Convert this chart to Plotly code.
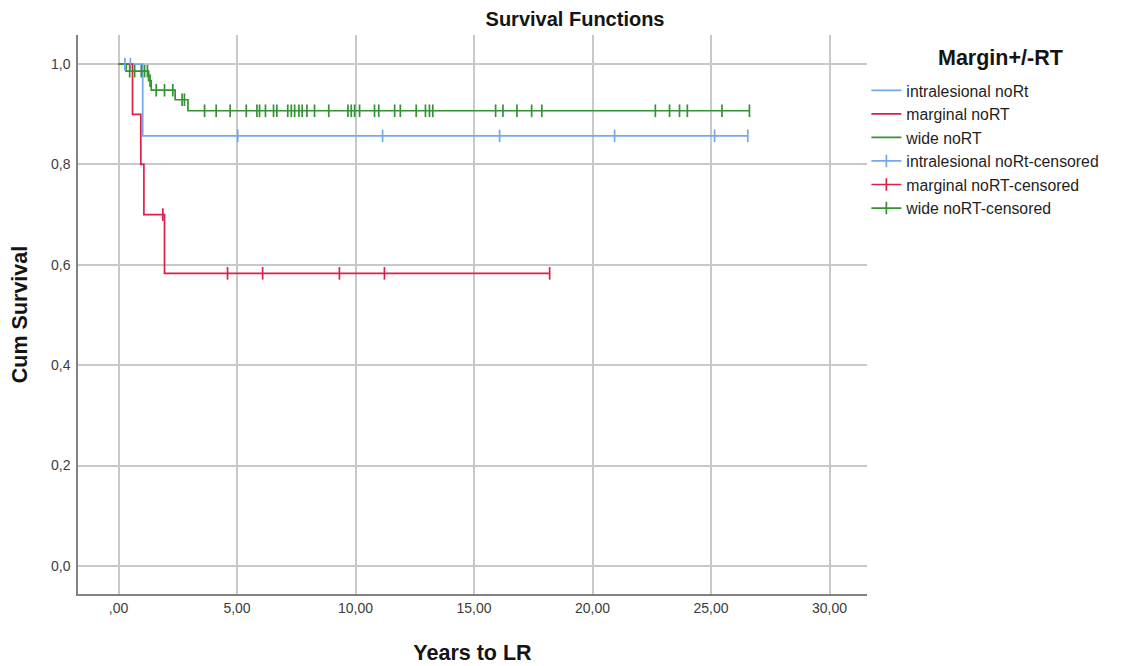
import plotly.graph_objects as go

# ---- data ----
groups = ["intralesional noRt", "marginal noRT", "wide noRT"]

intra_event_times = [1.02]
intra_event_surv = [0.857]
intra_censor_times = [0.27, 0.50, 5.03, 11.14, 16.08, 20.93, 25.15, 26.55]

marg_event_times = [0.59, 0.94, 1.07, 1.94]
marg_event_surv = [0.90, 0.80, 0.70, 0.583]
marg_censor_times = [1.87, 4.60, 6.08, 9.32, 11.22, 18.19]

wide_event_times = [0.32, 1.27, 1.38, 2.39, 2.93]
wide_event_surv = [0.986, 0.967, 0.948, 0.929, 0.907]
wide_censor_times = [0.47, 0.68, 0.96, 1.10, 1.22, 1.33, 1.59, 1.94, 2.29, 2.68, 2.78,
                     3.63, 4.12, 4.71, 5.39, 5.84, 5.95, 6.20, 6.54, 6.68, 7.14, 7.29,
                     7.43, 7.61, 7.75, 7.95, 8.27, 8.87, 9.68, 9.82, 9.96, 10.17, 10.80,
                     10.98, 11.65, 11.89, 12.56, 12.95, 13.12, 13.26, 15.91, 16.22, 16.81,
                     17.43, 17.86, 22.65, 23.25, 23.67, 24.00, 25.46, 26.62]

x_tickvals = [0, 5, 10, 15, 20, 25, 30]
x_ticktext = [",00", "5,00", "10,00", "15,00", "20,00", "25,00", "30,00"]
y_tickvals = [0.0, 0.2, 0.4, 0.6, 0.8, 1.0]
y_ticktext = ["0,0", "0,2", "0,4", "0,6", "0,8", "1,0"]

legend_title = "Margin+/-RT"
colors = ["rgb(115,168,234)", "rgb(222,30,75)", "rgb(52,145,52)"]


def surv_at(t, ev_t, ev_s):
    s = 1.0
    for et, es in zip(ev_t, ev_s):
        if t >= et:
            s = es
    return s


def step_xy(ev_t, ev_s, cens_t):
    end = max(max(cens_t), max(ev_t))
    xs = [0.0] + list(ev_t) + [end]
    ys = [1.0] + list(ev_s) + [ev_s[-1]]
    return xs, ys


fig = go.Figure()
data = [
    (intra_event_times, intra_event_surv, intra_censor_times),
    (marg_event_times, marg_event_surv, marg_censor_times),
    (wide_event_times, wide_event_surv, wide_censor_times),
]

for name, col, (et, es, ct) in zip(groups, colors, data):
    xs, ys = step_xy(et, es, ct)
    fig.add_trace(go.Scatter(x=xs, y=ys, mode="lines", line=dict(color=col, width=1.7, shape="hv"),
                             name=name, hoverinfo="skip"))

for name, col, (et, es, ct) in zip(groups, colors, data):
    cx, cy = [], []
    for t in ct:
        cx += [t, None]
        cy += [surv_at(t, et, es), None]
    fig.add_trace(go.Scatter(x=cx, y=cy, mode="lines+markers", connectgaps=False,
                             line=dict(color=col, width=1.7),
                             marker=dict(symbol="line-ns-open", size=9, color=col,
                                         line=dict(color=col, width=1.7)),
                             name=name + "-censored", hoverinfo="skip"))

grid_col = "rgb(200,200,200)"
fig.update_layout(
    width=1135, height=666,
    paper_bgcolor="white", plot_bgcolor="white",
    font=dict(family="Liberation Sans, Arial, sans-serif", color="rgb(40,40,40)"),
    margin=dict(l=70, r=276, t=27, b=80),
    title=dict(text="<b>Survival Functions</b>", x=0.4996, xanchor="center", y=0.9835, yanchor="middle",
               font=dict(size=20, color="rgb(20,20,20)")),
    showlegend=True,
    legend=dict(
        x=0.9992, xanchor="left", y=0.931, yanchor="top",
        font=dict(size=15.8, color="rgb(30,30,30)"),
        itemwidth=30, tracegroupgap=0, bgcolor="rgba(0,0,0,0)",
    ),
    annotations=[dict(text="<b>" + legend_title + "</b>", xref="paper", yref="paper",
                      x=1.1686, y=0.9589, xanchor="center", yanchor="middle", showarrow=False,
                      font=dict(size=21.5, color="rgb(20,20,20)"))],
    xaxis=dict(
        range=[-1.71, 31.58], tickvals=x_tickvals, ticktext=x_ticktext,
        showgrid=True, gridcolor=grid_col, gridwidth=1.6, zeroline=False,
        showline=True, linecolor="rgb(130,130,130)", linewidth=1.5,
        ticks="", tickfont=dict(size=14, color="rgb(60,60,60)"), automargin=False,
        title=dict(text="<b>Years to LR</b>", font=dict(size=21.5, color="rgb(20,20,20)"), standoff=30),
    ),
    yaxis=dict(
        range=[-0.056, 1.058], tickvals=y_tickvals, ticktext=y_ticktext,
        showgrid=True, gridcolor=grid_col, gridwidth=1.6, zeroline=False,
        showline=True, linecolor="rgb(130,130,130)", linewidth=1.5,
        ticks="", tickfont=dict(size=14, color="rgb(60,60,60)"), automargin=False,
        ticklabelstandoff=3,
        title=dict(text="<b>Cum Survival</b>", font=dict(size=21.5, color="rgb(20,20,20)"), standoff=20),
    ),
)

fig.write_html("out.html")
